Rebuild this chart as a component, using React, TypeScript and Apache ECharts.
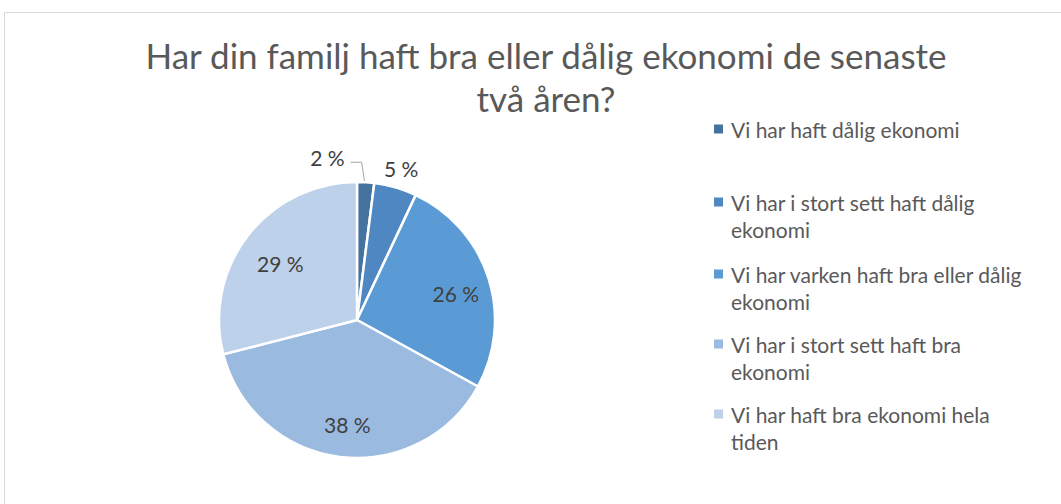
import React, { useEffect, useRef } from "react";
import * as echarts from "echarts";

const titleText = "Har din familj haft bra eller dålig ekonomi de senaste\ntvå åren?";
const categories = [
  "Vi har haft dålig ekonomi",
  "Vi har i stort sett haft dålig ekonomi",
  "Vi har varken haft bra eller dålig ekonomi",
  "Vi har i stort sett haft bra ekonomi",
  "Vi har haft bra ekonomi hela tiden",
];
const legendLabels = [
  "Vi har haft dålig ekonomi",
  "Vi har i stort sett haft dålig\nekonomi",
  "Vi har varken haft bra eller dålig\nekonomi",
  "Vi har i stort sett haft bra\nekonomi",
  "Vi har haft bra ekonomi hela\ntiden",
];
const values = [2, 5, 26, 38, 29];
const colors = ["#44739F", "#4E87C1", "#5B9BD5", "#9ABAE0", "#BDD1EA"];

const FONT = "Lato";
const CX = 357;
const CY = 320;
const R = 138;

export default function App() {
  const ref = useRef<HTMLDivElement>(null);
  useEffect(() => {
    document.body.style.margin = "0";
    const chart = echarts.init(ref.current!, null, { renderer: "svg" });
    const total = values.reduce((a, b) => a + b, 0);
    const mids: number[] = [];
    let acc = 0;
    values.forEach((v) => {
      mids.push(((acc + v / 2) / total) * 2 * Math.PI);
      acc += v;
    });

    const legendGraphics: any[] = [];
    const legendTop = [129, 202, 274, 344, 414];
    legendLabels.forEach((lab, i) => {
      legendGraphics.push({
        type: "rect",
        shape: { x: 714, y: legendTop[i] - 4.5, width: 9, height: 9 },
        style: { fill: colors[i] },
      });
      legendGraphics.push({
        type: "text",
        x: 731,
        y: legendTop[i] - 13.5,
        style: {
          text: lab,
          fontFamily: FONT,
          fontSize: 21,
          lineHeight: 27,
          fill: "#595959",
          verticalAlign: "top",
          align: "left",
        },
      });
    });

    chart.setOption({
      animation: false,
      backgroundColor: "#ffffff",
      title: {
        text: titleText,
        left: 541,
        top: 28,
        textAlign: "center",
        textStyle: {
          fontFamily: FONT,
          fontSize: 35,
          fontWeight: "normal",
          color: "#595959",
          lineHeight: 43,
        },
      },
      graphic: [
        {
          type: "rect",
          shape: { x: 4.5, y: 12.5, width: 1100, height: 600 },
          style: { fill: "none", stroke: "#D9D9D9", lineWidth: 1 },
          silent: true,
        },
        ...legendGraphics,
      ],
      series: [
        {
          type: "pie",
          center: [CX, CY],
          radius: [0, R],
          startAngle: 90,
          clockwise: true,
          avoidLabelOverlap: false,
          itemStyle: { borderColor: "#ffffff", borderWidth: 2.5 },
          label: {
            show: true,
            position: "inside",
            formatter: (p: any) => `${p.value} %`,
            fontFamily: FONT,
            fontSize: 21,
            color: "#404040",
          },
          labelLine: { show: false },
          labelLayout: (params: any) => {
            const i = params.dataIndex;
            const a = mids[i];
            const s = Math.sin(a);
            const c = Math.cos(a);
            const frac = values[i] / total;
            if (frac < 0.04) {
              const ex = CX + R * s;
              const ey = CY - R * c;
              return {
                x: ex - 21,
                y: ey - 25,
                align: "right",
                verticalAlign: "middle",
                labelLinePoints: [
                  [ex - 1, ey],
                  [ex - 4, ey - 20],
                  [ex - 15, ey - 20],
                ],
              };
            }
            if (frac < 0.1) {
              const d = R + 20;
              return {
                x: CX + d * s,
                y: CY - d * c,
                align: "center",
                verticalAlign: "middle",
              };
            }
            const d = R * 0.73;
            return {
              x: CX + d * s + 3,
              y: CY - d * c + 5,
              align: "center",
              verticalAlign: "middle",
            };
          },
          data: values.map((v, i) => ({
            name: categories[i],
            value: v,
            itemStyle: { color: colors[i] },
            ...(i === 0
              ? {
                  label: { position: "outside" },
                  labelLine: {
                    show: true,
                    length: 10,
                    length2: 10,
                    lineStyle: { color: "#A6A6A6", width: 1 },
                  },
                }
              : {}),
          })),
        },
      ],
    });
    return () => chart.dispose();
  }, []);
  return <div ref={ref} style={{ width: 1061, height: 504 }} />;
}
